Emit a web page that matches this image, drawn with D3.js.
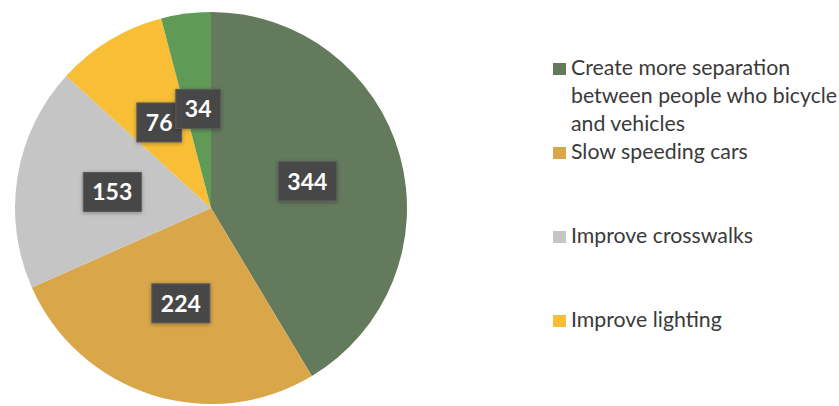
<!DOCTYPE html>
<html>
<head>
<meta charset="utf-8">
<script src="https://cdn.jsdelivr.net/npm/d3@7"></script>
<style>
  html, body { margin: 0; padding: 0; background: #ffffff; }
  svg { display: block; }
</style>
</head>
<body>
<svg id="chart" width="839" height="406"></svg>
<script>
// Responses per improvement, clockwise from 12 o'clock
const categories = [
  "Create more separation between people who bicycle and vehicles",
  "Slow speeding cars",
  "Improve crosswalks",
  "Improve lighting",
  "Other"
];
const values = [344, 224, 153, 76, 34];
const colors = ["#637a5d", "#d9a64a", "#c5c5c5", "#f8bf36", "#5f9a57"];
// Legend rows (the last slice has no legend entry)
const legendLines = [
  ["Create more separation", "between people who bicycle", "and vehicles"],
  ["Slow speeding cars"],
  ["Improve crosswalks"],
  ["Improve lighting"]
];

const svg = d3.select("#chart");
const cx = 211, cy = 208, R = 196;

const defs = svg.append("defs");
const f = defs.append("filter").attr("id", "glow")
  .attr("x", "-30%").attr("y", "-30%").attr("width", "160%").attr("height", "160%");
f.append("feGaussianBlur").attr("in", "SourceAlpha").attr("stdDeviation", 2.2).attr("result", "b");
f.append("feOffset").attr("in", "b").attr("dx", 0).attr("dy", 1).attr("result", "o");
f.append("feComponentTransfer").attr("in", "o").attr("result", "s")
  .append("feFuncA").attr("type", "linear").attr("slope", 0.35);
const m = f.append("feMerge");
m.append("feMergeNode").attr("in", "s");
m.append("feMergeNode").attr("in", "SourceGraphic");

const pie = d3.pie().sort(null).value(d => d);
const arcs = pie(values);
const arc = d3.arc().innerRadius(0).outerRadius(R);
const labelArc = d3.arc().innerRadius(100).outerRadius(100);

const g = svg.append("g").attr("transform", `translate(${cx},${cy})`);

g.selectAll("path.slice")
  .data(arcs)
  .join("path")
  .attr("class", "slice")
  .attr("d", arc)
  .attr("fill", (d, i) => colors[i]);

// Value labels in dark boxes
const lab = g.selectAll("g.lab")
  .data(arcs)
  .join("g")
  .attr("class", "lab")
  .attr("transform", d => `translate(${labelArc.centroid(d)})`);

lab.each(function(d) {
  const sel = d3.select(this);
  const txt = sel.append("text")
    .attr("text-anchor", "middle")
    .attr("dy", "0.36em")
    .attr("font-family", "Lato, 'Open Sans', sans-serif")
    .attr("font-weight", "bold")
    .attr("font-size", 23)
    .attr("fill", "#ffffff")
    .text(d.data);
  const bb = txt.node().getBBox();
  const w = bb.width + 18, h = 39;
  sel.insert("rect", "text")
    .attr("x", -w / 2).attr("y", -h / 2)
    .attr("width", w).attr("height", h)
    .attr("fill", "#474747")
    .attr("stroke", "#5a5a5a")
    .attr("stroke-width", 1)
    .attr("filter", "url(#glow)");
});

// Legend
const legend = svg.append("g").attr("transform", "translate(553,75)");
const rowStep = 84, lineStep = 28;
const rows = legend.selectAll("g.row")
  .data(legendLines)
  .join("g")
  .attr("class", "row")
  .attr("transform", (d, i) => `translate(0,${i * rowStep})`);

rows.append("rect")
  .attr("x", 0).attr("y", -12)
  .attr("width", 13).attr("height", 12)
  .attr("fill", (d, i) => colors[i]);

rows.append("text")
  .attr("x", 18)
  .attr("font-family", "Lato, 'Open Sans', sans-serif")
  .attr("font-size", 21.3)
  .attr("fill", "#3a3a3a")
  .selectAll("tspan")
  .data(d => d)
  .join("tspan")
  .attr("x", 18)
  .attr("y", (d, j) => j * lineStep)
  .text(d => d);
</script>
</body>
</html>
